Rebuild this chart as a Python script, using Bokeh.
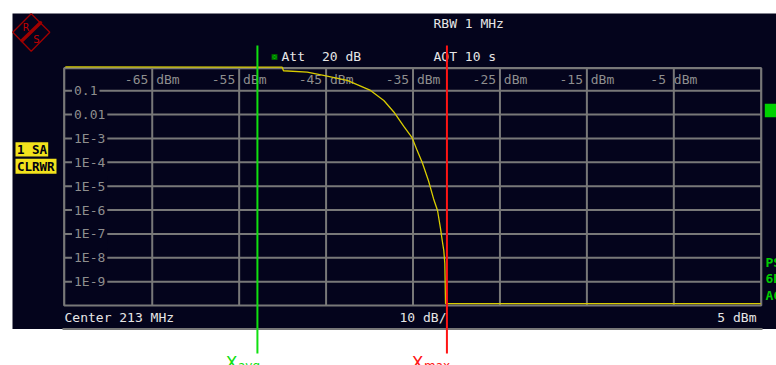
from bokeh.plotting import figure
from bokeh.models import Range1d
from bokeh.core.properties import value
from bokeh.embed import file_html
from bokeh.resources import INLINE

# ---------------- data ----------------
level_ticks = [-65, -55, -45, -35, -25, -15, -5]
level_tick_labels = ["-65 dBm", "-55 dBm", "-45 dBm", "-35 dBm", "-25 dBm", "-15 dBm", "-5 dBm"]
prob_ticks = [1e-1, 1e-2, 1e-3, 1e-4, 1e-5, 1e-6, 1e-7, 1e-8, 1e-9]
prob_tick_labels = ["0.1", "0.01", "1E-3", "1E-4", "1E-5", "1E-6", "1E-7", "1E-8", "1E-9"]
x_start, x_end = -75, 5          # dBm, 10 dB/div
p_top, p_bottom = 1.0, 1e-10

ccdf_level = [-75.0, -50.05, -49.9, -47.17, -45.3, -42.57, -39.89, -38.36, -37.21, -36.06,
              -35.09, -34.52, -33.94, -33.22, -32.64, -32.18, -31.84, -31.64, -31.46, -31.34,
              -31.26, 5.0]
ccdf_prob = [1.0, 0.97, 0.69, 0.60, 0.44, 0.27, 0.103, 0.039, 0.0129, 3.2e-3,
             1.05e-3, 3.1e-4, 9.8e-5, 1.7e-5, 3.0e-6, 9.6e-7, 1.7e-7, 5.3e-8, 2.0e-8, 5.8e-9,
             1.2e-10, 1.2e-10]

x_avg = -52.9
x_max = -31.1

header_texts = ["RBW 1 MHz", "Att", "20 dB", "AQT 10 s"]
footer_texts = ["Center 213 MHz", "10 dB/", "5 dBm"]
trace_texts = ["1 SA", "CLRWR"]
side_texts = ["PS", "6D", "AC"]

# ---------------- layout (page pixels) ----------------
W, H = 776, 365
OFF = 0
PX_L = 64.8          # page x of x_start
PX_PER_DIV = 86.93
PY_TOP = 66.4        # page y of p_top
PY_PER_DEC = 23.86

dpp = 10.0 / PX_PER_DIV


def dx(px):
    return x_start + (px - PX_L) * dpp


def dy(py):
    return 10 ** (-(py - PY_TOP) / PY_PER_DEC)


BG = "#04041c"
GRID = "#787878"
TICK_TXT = "#8e8e8e"
WHITE = "#e6e6e6"
MONO = value("DejaVu Sans Mono")
SANS = value("DejaVu Sans")

p = figure(width=W, height=H,
           x_range=Range1d(dx(OFF), dx(OFF + W)),
           y_range=Range1d(dy(OFF + H), dy(OFF)),
           y_axis_type="log", x_axis_location=None, y_axis_location=None,
           toolbar_location=None, output_backend="svg", min_border=0,
           background_fill_color="white", border_fill_color="white",
           outline_line_color=None)
p.xgrid.grid_line_color = None
p.ygrid.grid_line_color = None

# screen background
p.quad(left=[dx(12)], right=[dx(780)], top=[dy(13)], bottom=[dy(328.5)],
       fill_color=BG, line_color=None)
p.segment(x0=[dx(62)], x1=[dx(762)], y0=[dy(328.5)], y1=[dy(328.5)],
          line_color=GRID, line_width=2)

# grid
FR_L, FR_R, FR_T, FR_B = 63.7, 760.7, 67.7, 305.0
p.segment(x0=[dx(FR_L)] * len(prob_ticks), x1=[dx(FR_R)] * len(prob_ticks),
          y0=prob_ticks, y1=prob_ticks, line_color=GRID, line_width=2)
p.segment(x0=level_ticks, x1=level_ticks,
          y0=[dy(FR_T)] * len(level_ticks), y1=[dy(FR_B)] * len(level_ticks),
          line_color=GRID, line_width=2)
p.quad(left=[dx(FR_L)], right=[dx(FR_R)], top=[dy(FR_T)], bottom=[dy(FR_B)],
       fill_color=None, line_color=GRID, line_width=2.2)

# tick labels
p.text(x=[dx(71.5)] * len(prob_ticks), y=prob_ticks, text=prob_tick_labels,
       text_align="left", text_baseline="middle", text_font=MONO,
       text_font_size="13px", text_color=TICK_TXT,
       background_fill_color=BG, padding=2)
p.text(x=level_ticks, y=[dy(78.5)] * len(level_ticks), text=level_tick_labels,
       text_align="center", text_baseline="middle", text_font=MONO,
       text_font_size="13px", text_color=TICK_TXT)

# trace
p.line(ccdf_level, ccdf_prob, line_color="#d8cc00", line_width=1.3)

# header / footer texts
p.text(x=[dx(433), dx(281), dx(321.5), dx(433)],
       y=[dy(22.5), dy(55.5), dy(55.5), dy(55.5)], text=header_texts,
       text_align="left", text_baseline="middle", text_font=MONO,
       text_font_size="13px", text_color=WHITE)
p.scatter(x=[dx(274)], y=[dy(56.5)], marker="square_x", size=5,
          fill_color="#00c000", line_color="#006000")
p.text(x=[dx(64), dx(399)], y=[dy(317), dy(317)], text=footer_texts[:2],
       text_align="left", text_baseline="middle", text_font=MONO,
       text_font_size="13px", text_color=WHITE)
p.text(x=[dx(756)], y=[dy(317)], text=[footer_texts[2]], text_align="right",
       text_baseline="middle", text_font=MONO, text_font_size="13px", text_color=WHITE)

# trace info boxes
p.quad(left=[dx(15), dx(15)], right=[dx(47.7), dx(56)],
       top=[dy(141.7), dy(158.3)], bottom=[dy(156), dy(173.3)],
       fill_color="#f2e21c", line_color=None)
p.text(x=[dx(16.5), dx(16.5)], y=[dy(149), dy(166)], text=trace_texts,
       text_align="left", text_baseline="middle", text_font=MONO,
       text_font_size="12.5px", text_font_style="bold", text_color="#000010")

# right side indicators
p.quad(left=[dx(764.3)], right=[dx(790)], top=[dy(103.3)], bottom=[dy(116.7)],
       fill_color="#00d200", line_color=None)
p.text(x=[dx(765)] * 3, y=[dy(262), dy(278), dy(295)], text=side_texts,
       text_align="left", text_baseline="middle", text_font=MONO,
       text_font_size="13px", text_font_style="bold", text_color="#00cc00")

# R&S logo
LOGO = "#a00000"
p.patch(x=[dx(30.7), dx(49.3), dx(30.7), dx(12.3)],
        y=[dy(13.3), dy(31.7), dy(50.7), dy(31.7)],
        fill_color=None, line_color=LOGO, line_width=1.3)
p.segment(x0=[dx(21.7)], y0=[dy(40)], x1=[dx(40)], y1=[dy(22.3)],
          line_color=LOGO, line_width=3.5, line_cap="round")
p.text(x=[dx(25.5), dx(36)], y=[dy(26.5), dy(38.5)], text=["R", "S"],
       text_align="center", text_baseline="middle", text_font=SANS,
       text_font_size="10px", text_color="#c00000")

# marker lines
GREEN = "#10e010"
RED = "#ff1414"
p.segment(x0=[x_avg], x1=[x_avg], y0=[dy(45)], y1=[dy(353)],
          line_color=GREEN, line_width=2)
p.segment(x0=[x_max], x1=[x_max], y0=[dy(45)], y1=[dy(353)],
          line_color=RED, line_width=2)

# marker labels
p.text(x=[dx(237), dx(423)], y=[dy(362), dy(362)], text=["X", "X"],
       text_align="right", text_baseline="alphabetic", text_font=SANS,
       text_font_size="17px", text_color=[GREEN, RED])
p.text(x=[dx(237.5), dx(423.5)], y=[dy(365), dy(365)], text=["avg", "max"],
       text_align="left", text_baseline="alphabetic", text_font=SANS,
       text_font_size="12px", text_color=[GREEN, RED])

open("out.html", "w").write(file_html(p, INLINE))
